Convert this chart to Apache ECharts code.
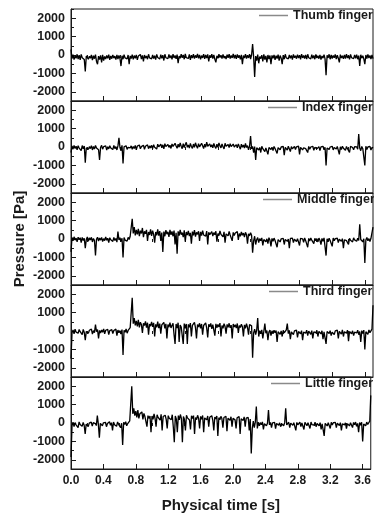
<!DOCTYPE html>
<html>
<head>
<meta charset="utf-8">
<script src="https://cdn.jsdelivr.net/npm/echarts@6/dist/echarts.min.js"></script>
<style>
html, body { margin: 0; padding: 0; background: #fff; }
#chart { width: 374px; height: 515px; }
</style>
</head>
<body>
<div id="chart"></div>
<script>
// sample spacing of the read-off signals (s)
var dt = 0.0125;

var fingerNames = ['Thumb finger', 'Index finger', 'Middle finger', 'Third finger', 'Little finger'];

// pressure [Pa], one value every dt from 0 to 3.7 s (20 values = 0.25 s per row)
var thumb = [
	300, -200, 20, -250, -30, -180, 40, -220, -10, -260, 30, -150, -60, -240, -900, -50, 10, -230, -70, -180,
	0, -280, -40, -200, 20, -350, -500, -60, -250, -20, -400, 10, -300, -80, -220, -30, -180, 20, -260, -50,
	-200, 0, -170, -60, -250, 10, -220, -30, -190, -600, -40, -230, 20, -160, -70, -210, 0, -500, -50, -190,
	20, -240, -30, -180, 10, -260, -60, -150, 30, -220, -20, -350, 0, -170, -50, -230, 40, -160, -80, -210,
	10, -190, -40, -250, 30, -140, -70, -220, 20, -180, -10, -300, 40, -150, -60, -200, 30, -170, -20, -240,
	50, -160, -30, -210, 20, -450, -60, -180, 40, -150, 0, -230, 60, -140, -40, -190, 30, -260, -10, -170,
	40, -200, -20, -150, 60, -180, 10, -240, -30, -160, 50, -210, 0, -170, 30, -350, -20, -150, 40, -190,
	10, -230, -400, -40, -180, 50, -140, -10, -200, 30, -170, -60, -220, 20, -150, 40, -190, -30, -160, 60,
	-180, 0, -210, 30, -150, -20, -240, 10, -500, -30, -170, 40, -200, -10, -160, 50, -220, 0, 600, -100,
	-1200, -60, -300, 20, -450, -80, -200, -10, -350, 30, -250, -50, -400, 0, -220, -30, -500, -20, -180, 10,
	-260, -40, -190, 20, -300, -30, -170, -500, -10, -230, 40, -160, -60, -210, 10, -180, -20, -250, 30, -150,
	-40, -200, 20, -170, -10, -240, 50, -160, -30, -190, 0, -220, 40, -150, -60, -210, 20, -180, -20, -230,
	30, -160, -40, -200, 10, -250, -50, -170, 20, -210, -1100, -10, -160, 40, -230, 0, -190, -30, -150, 30,
	-220, -10, -180, -400, 20, -160, -40, -210, 10, -190, 50, -170, -20, -240, 30, -150, -50, -200, 0, -180,
	20, -230, -30, -600, 10, -170, -40, -210, -500, 0, -190, 30, -160, -20, -220, 10, -200
];
var index = [
	-300, 60, -120, 90, -80, 40, -150, 70, -60, 30, -200, 80, -100, 50, -850, -40, 60, -130, 20, -90,
	70, -160, 30, -110, 80, -60, 40, -150, -700, -30, 90, -120, 20, -80, 60, -170, 10, -100, 70, -50,
	40, -140, 80, -90, 20, -160, 60, 500, -30, -200, 90, -900, 10, -60, 70, -130, -20, 80, -50, 60,
	-120, 30, -80, 90, -150, 50, -40, 110, -100, 20, -60, 100, -130, 40, -30, 120, -90, 60, -50, 90,
	-80, 130, -20, 80, -110, 150, 10, -60, 160, -40, 120, -100, 180, 20, -50, 140, -20, 100, -80, 170,
	30, -40, 200, 60, -70, 150, -10, 220, 40, -90, 180, -30, 140, 250, -20, 110, -60, 190, 30, -80,
	160, -20, 230, 50, -70, 180, 10, -40, 200, 70, -90, 150, -10, 260, 40, -60, 170, 0, 120, -50,
	190, 30, -80, 150, -20, 220, 60, -50, 170, 10, -100, 200, 40, -60, 140, -30, 180, 20, -70, 160,
	0, -90, 130, -40, 170, 20, -120, 150, -20, 110, -60, 190, -30, 80, -150, 40, 600, -100, 30, -300,
	20, -700, -40, 30, -160, -20, -300, 40, -90, 10, -250, -50, 20, -400, -30, 50, -140, -10, -200, 30,
	-80, 20, -350, -40, 40, -150, 0, -90, 30, -450, -20, 10, -170, 40, -60, -250, 20, -100, -30, 30,
	-140, 10, -70, 50, -400, -20, 20, -160, -40, 40, -90, -10, -300, 30, -120, 0, -60, 40, -180, -20,
	30, -100, -40, 20, -200, 10, -70, 40, -150, -20, -1000, -50, 30, -130, 0, -80, 40, -160, -30, 20,
	-110, 30, -60, -400, 10, -140, 40, -70, -20, -180, 30, -90, 0, -300, 40, -60, -30, -150, 20, -80,
	10, -120, 700, -60, -200, 30, -90, -20, -1000, 40, -130, 0, -70, 30, -160, -20, -60
];
var middle = [
	-700, 80, -100, 120, -60, 50, -150, 100, -40, 70, -200, 90, -80, 40, -500, -30, 110, -120, 60, -50,
	90, -160, 30, -80, -900, -20, 100, -110, 50, -60, 80, -140, 20, -90, 110, -70, 40, -200, 70, -40,
	60, -130, 90, -80, 30, -170, 400, -50, 70, -140, 40, -1000, 80, -60, 20, -120, 90, -30, 150, 60,
	1100, 300, 650, 200, 500, 250, 550, 150, 450, 300, 600, 100, 420, 280, 500, -100, 380, 220, 520, 170,
	450, 250, -200, 380, 200, 520, 180, 430, -100, 350, -700, 400, 150, 480, 260, 390, 120, 500, 230, 410,
	150, 460, -300, 340, -800, 420, 180, 500, 240, 350, 100, 470, -150, 380, 210, 440, 160, 330, -250, 400,
	200, 480, 130, 360, 250, 420, -100, 390, 180, 460, 220, 310, 150, 430, -300, 370, 240, 280, 400, 160,
	350, 230, 420, -150, 300, 180, 440, 250, 330, 120, 390, -200, 280, 350, 170, 410, 220, 300, -100, 360,
	190, 330, 250, 400, -50, 300, 150, 380, 200, 320, 100, 360, 230, -250, 280, 170, 340, 200, -750, -100,
	150, -300, -40, 80, -200, 20, -100, 60, -350, -30, 40, -150, 10, -250, 70, -60, -400, 30, -120, 50,
	-80, 20, -450, -30, 60, -160, 10, -90, 40, -300, -20, 70, -130, 0, -500, 30, -70, 50, -200, -10,
	60, -140, 20, -80, -350, 40, -50, 10, -180, 60, -90, -20, -450, 30, -110, 50, -60, 0, -250, 40,
	-100, 20, -160, 50, -70, -300, 30, -120, 60, -40, -900, 10, -150, 40, -80, -20, -400, 50, -100, 20,
	-60, 40, -200, -10, 60, -130, 20, -500, -40, 50, -90, 10, -300, 40, -70, -20, -160, 60, -50, 20,
	-120, 40, -80, 800, -30, 50, -150, 10, -1300, -60, 80, -100, 20, -140, 40, -50, 650
];
var third = [
	-1500, -100, 60, -150, 100, -60, 30, -120, 80, -40, 50, -200, 90, -80, -500, -20, 70, -130, 40, -60,
	100, -170, 20, -90, 350, -40, 80, -400, 30, -110, 60, -70, 110, -160, 40, -30, 90, -200, 20, -80,
	70, -140, 30, -60, 100, -250, 50, -90, 20, -160, 80, -1300, 40, -70, 110, -120, 30, -50, 180, 90,
	1800, 400, 700, 300, 550, 250, 600, 200, 480, 350, -100, 420, 300, 520, 180, 450, -200, 380, 260, 490,
	230, 440, -300, 360, 200, 510, 160, 400, -150, 330, 250, 470, 140, 390, -400, 350, 210, 460, 170, 300,
	420, -200, -700, 380, 160, 450, -600, 330, 220, 300, -700, 400, 150, 380, -700, 360, 200, 430, -300, 310,
	250, 470, 180, -400, 350, 220, 420, 140, 380, -200, 300, 250, 440, 160, -350, 370, 230, 410, 120, 340,
	260, -250, 390, 180, 350, 220, 430, -300, 300, 150, 400, 240, -150, 360, 200, 420, 170, 320, -400, 380,
	220, 340, 160, 410, -100, 300, 190, 370, 230, -300, 330, 150, 400, 200, -200, 350, 250, 280, -1450, -100,
	100, -200, 50, 700, -300, 20, -150, 60, -400, -20, 400, -120, 30, -500, -60, 50, -250, 10, -150, 40,
	-90, 20, -600, -40, 50, -180, 10, -300, 40, -100, -20, 60, 400, -140, 30, -450, -50, 40, -200, 10,
	-80, 50, -350, -30, 40, -150, 20, -500, -60, 30, -120, 50, -250, -10, 60, -180, 20, -400, -40, 30,
	-100, 40, -300, -20, 50, -160, 10, -450, -50, 30, -700, -30, 60, -140, 20, -250, -60, 40, -200, 10,
	-90, 50, -400, -20, 30, -170, 60, -300, -40, 20, -120, 50, -550, -30, 40, -150, 10, -250, -60, 30,
	-110, 40, -200, -30, -600, 20, -140, 50, -1000, -40, 30, -180, 60, -90, -20, 100, 1400
];
var little = [
	-1850, -150, 50, -200, 20, -100, -40, -250, 60, -80, 10, -180, 30, -120, -600, -60, 40, -200, -10, -90,
	50, -170, 20, -80, -30, -140, 400, -60, -800, -20, 60, -150, 10, -90, 40, -200, -30, -70, 70, -130,
	20, -400, 50, -100, -20, -180, 60, -70, 30, -250, -10, -1200, 40, -80, 70, -150, -30, -60, 120, 80,
	2000, 500, 800, 400, 650, 300, 700, 250, 500, 400, 600, 200, 520, 350, 450, -200, 400, 250, 380, -500,
	380, 200, 500, 250, -200, 450, 300, 380, 150, 470, -400, 350, 280, 420, 200, -300, 400, 260, 330, 180,
	450, -200, -1050, 380, 220, -500, 400, 170, 460, 250, -1050, 350, 200, -400, 420, 280, 330, 160, -350, 390,
	240, 400, -600, 300, 180, 420, 250, -300, 360, 200, 410, -500, 280, 350, 170, 380, -200, 310, 240, 400,
	150, -400, 330, 220, 380, -700, 290, 180, 360, 240, -250, 300, 200, 370, -450, 260, 310, 150, 340, -200,
	250, 320, 170, -300, 280, 210, 350, -600, 230, 300, 140, 330, -200, 260, 200, 300, -400, 220, -1650, -300,
	100, -250, 50, 900, -300, 40, -150, 20, -100, 60, -350, -40, 30, -150, -20, 700, -100, 40, -250, 10,
	-60, 30, -300, -20, 50, -120, 10, -200, -40, 60, -150, 20, 800, -100, -30, 40, -250, -10, 50, -130,
	20, -60, -400, 30, -100, -20, 50, -200, 10, -80, -350, 40, -30, -150, 20, -60, -300, 50, -90, 10,
	-120, 40, -200, -30, 60, -150, 20, -350, -50, 30, -700, -20, 50, -160, 10, -90, -300, 40, -110, 20,
	-50, 30, -250, -10, 50, -140, 20, -400, -40, 60, -100, 10, -300, -30, 40, -160, 20, -80, -250, 30,
	-90, 50, -180, -20, -500, 30, -120, 40, -1000, -60, 20, -150, 50, -80, -20, 100, 1500
];

var yMajor = [-2000, -1000, 0, 1000, 2000];
var yMinor = [-2500, -1500, -500, 500, 1500, 2500];
var xMajor = [0, 0.4, 0.8, 1.2, 1.6, 2.0, 2.4, 2.8, 3.2, 3.6];
var xMinor = [0.2, 0.6, 1.0, 1.4, 1.8, 2.2, 2.6, 3.0, 3.4];

var signals = [thumb, index, middle, third, little];
var legendLeft = [259, 268, 263, 269, 271];

(function() {
	var chart = echarts.init(document.getElementById('chart'));

	var ink = '#1a1a1a';
	var font = 'Liberation Sans, Arial, sans-serif';
	var panelTop = 9, panelH = 92;

	var grids = [], xAxes = [], yAxes = [], series = [], legends = [];

	for (var k = 0; k < signals.length; k++) {
		var panelY = panelTop + k * panelH;
		var isLast = k == signals.length - 1;
		grids.push({
			left: 71, right: 1, top: panelY, height: panelH,
			show: true, borderColor: ink, borderWidth: 1
		});

		// major x axis (labels only on the bottom panel)
		xAxes.push({
			gridIndex: k, type: 'value', min: 0, max: 3.7,
			axisLine: { onZero: false, lineStyle: { color: ink } },
			axisTick: { inside: true, length: 5, customValues: xMajor, lineStyle: { color: ink } },
			axisLabel: {
				show: isLast, customValues: xMajor, margin: 6,
				formatter: function(v) { return v.toFixed(1); },
				color: ink, fontSize: 12, fontWeight: 'bold', fontFamily: font
			},
			splitLine: { show: false },
			name: isLast ? 'Physical time [s]' : '',
			nameLocation: 'middle', nameGap: 29,
			nameTextStyle: { color: ink, fontSize: 15, fontWeight: 'bold', fontFamily: font }
		});
		// minor x ticks
		xAxes.push({
			gridIndex: k, type: 'value', min: 0, max: 3.7,
			axisLine: { show: false },
			axisTick: { inside: true, length: 3, customValues: xMinor, lineStyle: { color: ink } },
			axisLabel: { show: false },
			splitLine: { show: false }
		});

		yAxes.push({
			gridIndex: k, type: 'value', min: -2500, max: 2500, position: 'left',
			axisLine: { show: true, lineStyle: { color: ink } },
			axisTick: { inside: true, length: 5, customValues: yMajor, lineStyle: { color: ink } },
			axisLabel: {
				customValues: yMajor, margin: 6,
				formatter: function(v) { return String(v); },
				color: ink, fontSize: 12.5, fontWeight: 'bold', fontFamily: font
			},
			splitLine: { show: false },
			name: k == 2 ? 'Pressure [Pa]' : '',
			nameLocation: 'middle', nameGap: 44, nameMoveOverlap: false,
			nameTextStyle: { color: ink, fontSize: 15, fontWeight: 'bold', fontFamily: font }
		});
		// minor y ticks
		yAxes.push({
			gridIndex: k, type: 'value', min: -2500, max: 2500, position: 'left',
			axisLine: { show: false },
			axisTick: { inside: true, length: 3, customValues: yMinor, lineStyle: { color: ink } },
			axisLabel: { show: false },
			splitLine: { show: false }
		});

		var pts = [];
		for (var i = 0; i < signals[k].length; i++) {
			pts.push([i * dt, signals[k][i]]);
		}
		series.push({
			name: fingerNames[k],
			type: 'line',
			xAxisIndex: 2 * k,
			yAxisIndex: 2 * k,
			data: pts,
			showSymbol: false,
			symbol: 'none',
			lineStyle: { color: '#000', width: 1.3 },
			itemStyle: { color: '#000' }
		});

		legends.push({
			data: [{ name: fingerNames[k], icon: 'rect', itemStyle: { color: '#8a8a8a' } }],
			left: legendLeft[k], top: panelY,
			padding: 0, itemWidth: 29, itemHeight: 1.5, itemGap: 5,
			selectedMode: false,
			textStyle: { color: ink, fontSize: 12.5, fontWeight: 'bold', fontFamily: font }
		});
	}

	chart.setOption({
		animation: false,
		backgroundColor: '#fff',
		grid: grids,
		xAxis: xAxes,
		yAxis: yAxes,
		legend: legends,
		series: series
	});
})();
</script>
</body>
</html>
